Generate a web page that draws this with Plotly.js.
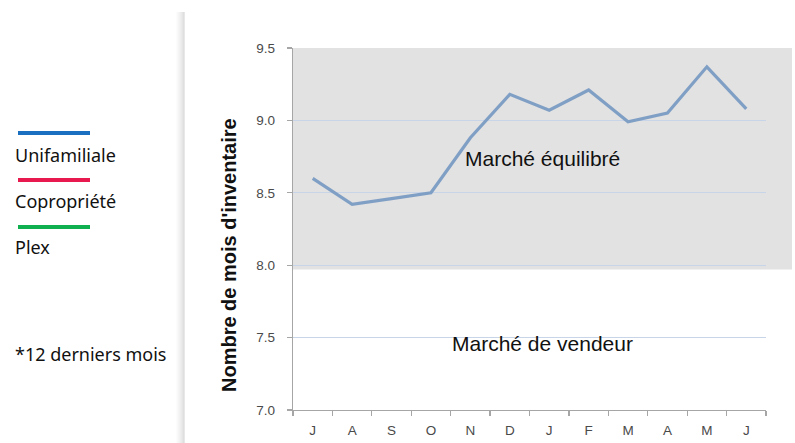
<!DOCTYPE html>
<html>
<head>
<meta charset="utf-8">
<script src="https://cdn.plot.ly/plotly-3.0.1.min.js"></script>
<style>html,body{margin:0;padding:0;background:#fff;}#chart{width:795px;height:443px;}</style>
</head>
<body>
<div id="chart"></div>
<script>
// Data
const months = ["J","A","S","O","N","D","J","F","M","A","M","J"];
const inventoryMonths = [8.60, 8.42, 8.46, 8.50, 8.88, 9.18, 9.07, 9.21, 8.99, 9.05, 9.37, 9.08];
const yTicks = [7.0, 7.5, 8.0, 8.5, 9.0, 9.5];
const yTickLabels = ["7.0", "7.5", "8.0", "8.5", "9.0", "9.5"];
const balancedMarketFloor = 7.97;
const legendItems = ["Unifamiliale", "Copropriété", "Plex"];
const legendColors = ["#1a6fc1", "#e8194f", "#10b050"];

const W = 795, H = 443;
const px = v => v / W;
const py = v => 1 - v / H;

const xIdx = months.map((_, i) => i);
const boundaries = [];
for (let i = 0; i <= months.length; i++) boundaries.push(i - 0.5);

const traces = [
  {
    x: xIdx, y: inventoryMonths, type: 'scatter', mode: 'lines',
    line: {color: '#809fc5', width: 3.2}, hoverinfo: 'skip', showlegend: false,
    xaxis: 'x', yaxis: 'y'
  },
  {
    x: [boundaries[0], boundaries[boundaries.length-1]], y: [7, 7], type: 'scatter', mode: 'lines',
    line: {color: 'rgba(0,0,0,0)', width: 0}, hoverinfo: 'skip', showlegend: false,
    xaxis: 'x2', yaxis: 'y'
  }
];

const shapes = [
  {type: 'rect', layer: 'below', xref: 'paper', yref: 'y', x0: px(293), x1: px(792),
   y0: balancedMarketFloor, y1: 9.5, fillcolor: '#e2e2e2', line: {width: 0}}
];
const sepCols = ['#fbfbfb','#f7f7f7','#f2f2f2','#eeeeee','#e9e9e9','#e4e4e4','#dedede','#d8d8d8'];
sepCols.forEach((c, i) => {
  shapes.push({type: 'line', xref: 'paper', yref: 'paper', x0: px(177 + i), x1: px(177 + i),
    y0: py(12), y1: 0, line: {color: c, width: 1.2}});
});
const legendY = [133, 180, 227];
legendItems.forEach((_, i) => {
  shapes.push({type: 'line', xref: 'paper', yref: 'paper', x0: px(18), x1: px(90),
    y0: py(legendY[i]), y1: py(legendY[i]), line: {color: legendColors[i], width: 4}});
});

const arial = 'Arial, Liberation Sans, sans-serif';
const legendFont = {family: 'Noto Sans, Lato, sans-serif', size: 18, color: '#111'};
const annotations = [
  {text: 'Marché équilibré', xref: 'paper', yref: 'paper', x: px(542), y: py(158),
   xanchor: 'center', yanchor: 'middle',
   showarrow: false, font: {family: arial, size: 21, color: '#111'}},
  {text: 'Marché de vendeur', xref: 'paper', yref: 'paper', x: px(542), y: py(343),
   xanchor: 'center', yanchor: 'middle',
   showarrow: false, font: {family: arial, size: 21, color: '#111'}},
  {text: "Nombre de mois d'inventaire", xref: 'paper', yref: 'paper', x: px(229), y: py(255),
   xanchor: 'center', yanchor: 'middle',
   textangle: -90, showarrow: false,
   font: {family: arial, size: 20, color: '#111', weight: 'bold'}},
  {text: '*12 derniers mois', xref: 'paper', yref: 'paper', x: px(13), y: py(354),
   xanchor: 'left', yanchor: 'middle', showarrow: false, font: legendFont}
];
const legendTextY = [155, 201, 247];
legendItems.forEach((t, i) => {
  annotations.push({text: t, xref: 'paper', yref: 'paper', x: px(13), y: py(legendTextY[i]),
    xanchor: 'left', yanchor: 'middle', showarrow: false, font: legendFont});
});

const tickFont = {family: arial, size: 13.5, color: '#4a4a4a'};
const layout = {
  width: W, height: H,
  margin: {l: 0, r: 0, t: 0, b: 0},
  paper_bgcolor: '#fff', plot_bgcolor: 'rgba(0,0,0,0)',
  showlegend: false,
  xaxis: {
    domain: [px(293), px(766)], range: [-0.5, 11.5], anchor: 'y',
    tickmode: 'array', tickvals: xIdx, ticktext: months, ticks: '',
    showgrid: false, zeroline: false, showline: true, linecolor: '#a6a6a6', linewidth: 1.3,
    tickfont: tickFont, ticklabelstandoff: 7, fixedrange: true
  },
  xaxis2: {
    domain: [px(293), px(766)], range: [-0.5, 11.5], anchor: 'y', overlaying: 'x',
    tickmode: 'array', tickvals: boundaries, ticks: 'outside', ticklen: 5, tickcolor: '#a6a6a6',
    tickwidth: 1.3, showticklabels: false, showgrid: false, zeroline: false, showline: false,
    fixedrange: true
  },
  yaxis: {
    domain: [1 - 410 / H, 1 - 48 / H], range: [7, 9.5], anchor: 'x',
    tickmode: 'array', tickvals: yTicks, ticktext: yTickLabels,
    ticks: 'outside', ticklen: 5, tickcolor: '#a6a6a6', tickwidth: 1.3,
    showgrid: true, gridcolor: '#c8d4e8', gridwidth: 1.2, zeroline: false,
    showline: true, linecolor: '#a6a6a6', linewidth: 1.3,
    tickfont: tickFont, ticklabelstandoff: 9, fixedrange: true
  },
  shapes: shapes,
  annotations: annotations
};

Plotly.newPlot('chart', traces, layout, {staticPlot: true, displayModeBar: false});
</script>
</body>
</html>
